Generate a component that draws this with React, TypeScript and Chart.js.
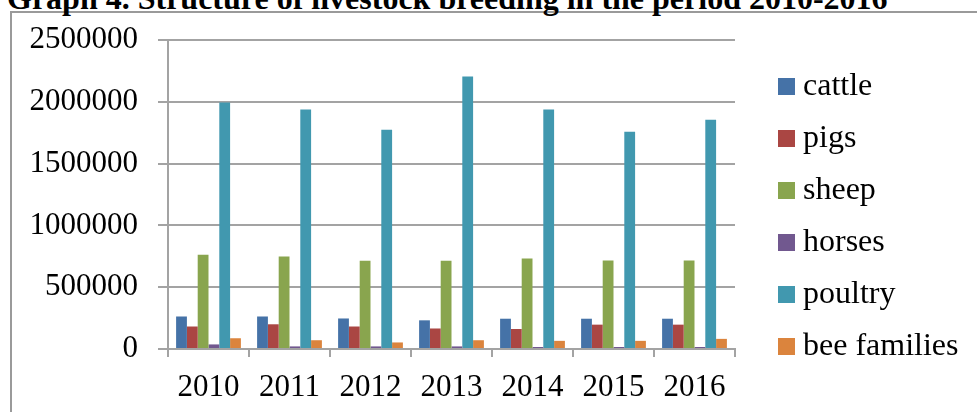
import React, { useEffect, useRef } from 'react';
import { Chart, registerables } from 'chart.js';

Chart.register(...registerables);

const years = ['2010', '2011', '2012', '2013', '2014', '2015', '2016'];
const seriesNames = ['cattle', 'pigs', 'sheep', 'horses', 'poultry', 'bee families'];
const cattle = [263000, 263000, 247000, 232000, 245000, 245000, 245000];
const pigs = [182000, 200000, 182000, 166000, 162000, 197000, 197000];
const sheep = [763000, 748000, 713000, 713000, 732000, 716000, 716000];
const horses = [37000, 21000, 21000, 21000, 16000, 16000, 16000];
const poultry = [1995000, 1938000, 1774000, 2204000, 1938000, 1758000, 1855000];
const beeFamilies = [87000, 71000, 53000, 71000, 66000, 66000, 82000];
const yTicks = [0, 500000, 1000000, 1500000, 2000000, 2500000];
const colors = ['#4572A7', '#AA4643', '#89A54E', '#71588F', '#4198AF', '#DB843D'];
const titleText = 'Graph 4. Structure of livestock breeding in the period 2010-2016';

const GRID = '#a3a3a3';
const FONT = 'Liberation Serif, Times New Roman, serif';
const LEGEND_SIZE = 32;
const LEGEND_PAD = 20;

export default function App() {
  const ref = useRef<HTMLCanvasElement>(null);

  useEffect(() => {
    const series = [cattle, pigs, sheep, horses, poultry, beeFamilies];
    const tickFont = { family: FONT, size: 31 };

    // measure legend text so the legend lands at a fixed x
    const m = document.createElement('canvas').getContext('2d') as CanvasRenderingContext2D;
    m.font = `${LEGEND_SIZE}px ${FONT}`;
    const maxText = Math.max(...seriesNames.map((n) => m.measureText(n).width));
    const legendWidth = LEGEND_PAD + 1 + LEGEND_SIZE / 2 + maxText + 10;
    const legendLeft = 766;
    const padRight = Math.max(0, 977 - legendLeft - legendWidth);

    const chart = new Chart(ref.current as HTMLCanvasElement, {
      type: 'bar',
      data: {
        labels: years,
        datasets: series.map((d, i) => ({
          label: seriesNames[i],
          data: d,
          backgroundColor: colors[i],
          borderWidth: 0,
          yAxisID: 'y',
          categoryPercentage: 0.8,
          barPercentage: 1,
        })),
      },
      options: {
        responsive: false,
        maintainAspectRatio: false,
        animation: false,
        layout: { padding: { left: 0, top: 40, right: padRight, bottom: 0 } },
        scales: {
          x: {
            grid: { drawOnChartArea: false, drawTicks: true, tickLength: 8, color: GRID, lineWidth: 2, offset: true },
            border: { display: true, color: GRID, width: 2 },
            ticks: { font: tickFont, color: '#000', padding: 12, maxRotation: 0, autoSkip: false },
            afterFit: (s: any) => {
              s.height = 63;
            },
          },
          y: {
            type: 'linear',
            position: 'left',
            min: 0,
            max: 2500000,
            afterBuildTicks: (s: any) => {
              s.ticks = yTicks.map((v) => ({ value: v }));
            },
            grid: { color: GRID, lineWidth: 2, tickLength: 10 },
            border: { display: true, color: GRID, width: 2 },
            ticks: { font: tickFont, color: '#000', padding: 20, callback: (v: any) => String(v) },
            afterFit: (s: any) => {
              s.width = 168;
            },
          },
          yR: {
            type: 'linear',
            position: 'right',
            display: true,
            grid: { display: false, drawTicks: false },
            border: { display: false },
            ticks: { display: false },
            afterFit: (s: any) => {
              s.width = legendLeft - 735;
            },
          },
        },
        plugins: {
          tooltip: { enabled: false },
          legend: {
            position: 'right',
            align: 'start',
            maxWidth: 400,
            title: { display: true, text: '', font: { size: 1, lineHeight: 1 }, padding: { top: 9.5, bottom: 0 } },
            labels: {
              font: { family: FONT, size: LEGEND_SIZE },
              color: '#000',
              padding: LEGEND_PAD,
              boxWidth: 1,
              usePointStyle: true,
              generateLabels: (c: any) => {
                const items = (Chart.defaults.plugins.legend.labels as any).generateLabels(c);
                return items.map((it: any) => {
                  const cv = document.createElement('canvas');
                  cv.width = 17;
                  cv.height = 17;
                  const g = cv.getContext('2d') as CanvasRenderingContext2D;
                  g.fillStyle = it.fillStyle;
                  g.fillRect(0, 0, 17, 17);
                  return { ...it, pointStyle: cv, lineWidth: 0 };
                });
              },
            },
          },
        },
      } as any,
    });
    return () => chart.destroy();
  }, []);

  return (
    <div style={{ position: 'absolute', left: 0, top: 0, width: 977, height: 412, overflow: 'hidden', background: '#fff' }}>
      <div
        style={{
          position: 'absolute',
          left: 10,
          top: 11,
          width: 1100,
          height: 600,
          border: '2px solid #9a9a9a',
          boxSizing: 'border-box',
        }}
      />
      <div
        style={{
          position: 'absolute',
          left: 7,
          top: -18,
          fontFamily: FONT,
          fontWeight: 'bold',
          fontSize: 32,
          lineHeight: 1,
          whiteSpace: 'nowrap',
          color: '#000',
        }}
      >
        {titleText}
      </div>
      <canvas
        ref={ref}
        width={977}
        height={412}
        style={{ position: 'absolute', left: 0, top: 0, width: 977, height: 412, display: 'block' }}
      />
    </div>
  );
}
